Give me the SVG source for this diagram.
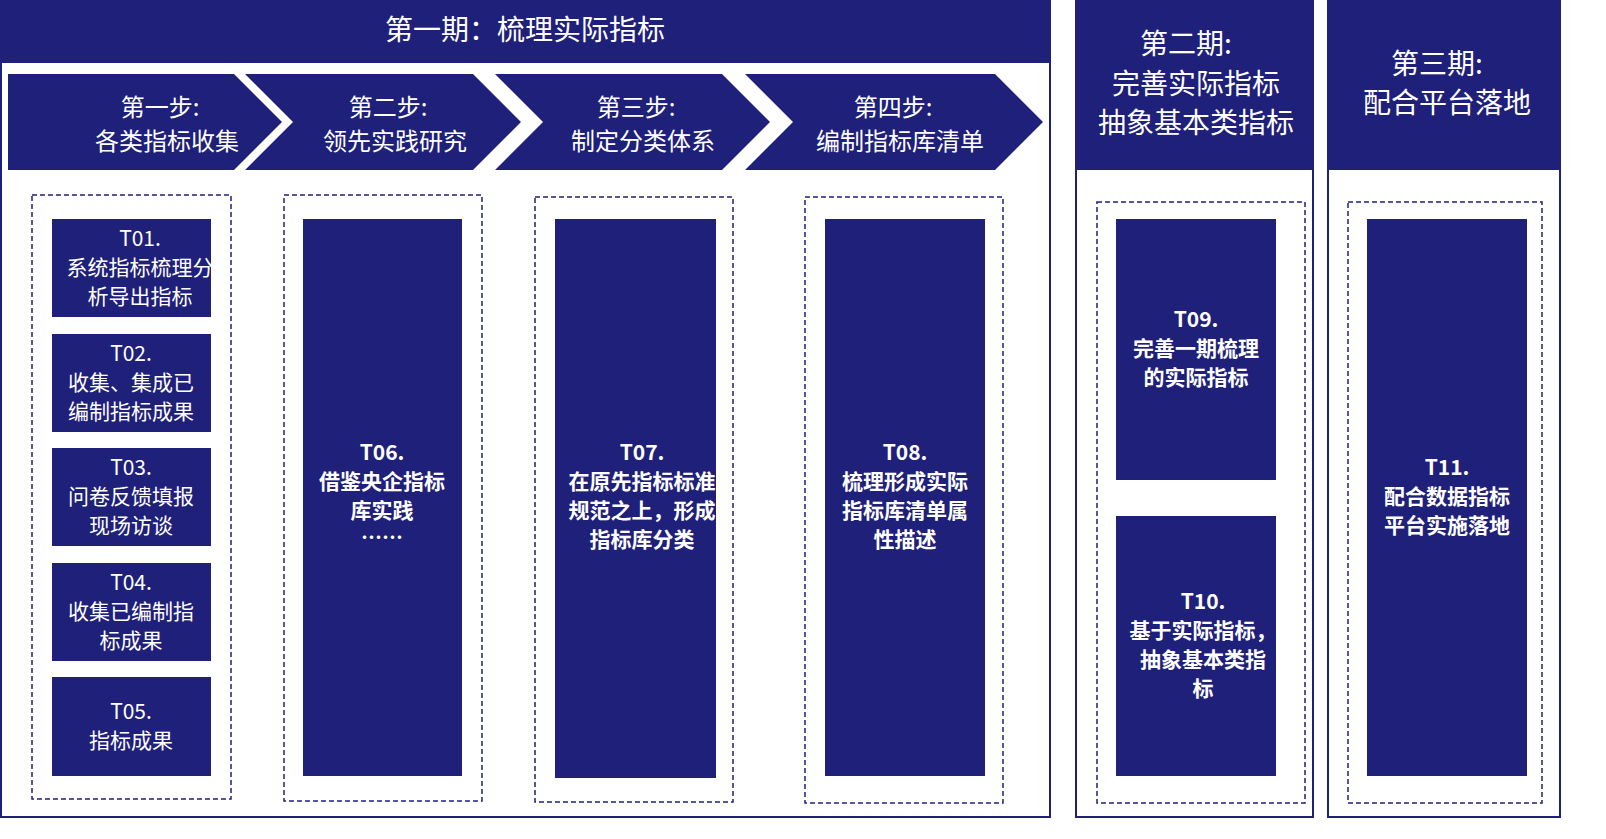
<svg xmlns="http://www.w3.org/2000/svg" width="1606" height="839" viewBox="0 0 1606 839">
<style>
.n{fill:#1f207a}
.fr{fill:#fff;stroke:#1f207a;stroke-width:2}
.d{fill:none;stroke:#1f207a;stroke-width:1.5;stroke-dasharray:5 3}
text{font-family:"Noto Sans CJK SC","Liberation Sans",sans-serif;fill:#fff;text-anchor:middle}
.h{font-size:28px}
.s{font-size:24px}
.t{font-size:21px}
.b{font-size:21px;font-weight:bold}
</style>
<defs>
<clipPath id="c1"><rect x="52" y="219" width="159" height="98"/></clipPath>
<clipPath id="c7"><rect x="555" y="219" width="161" height="559"/></clipPath>
<clipPath id="c10"><rect x="1116" y="516" width="160" height="260"/></clipPath>
</defs>
<rect width="1606" height="839" fill="#fff"/>
<g id="phase1">
<rect class="fr" x="1" y="1" width="1049" height="816"/>
<rect class="n" x="0" y="0" width="1051" height="63"/>
<text class="h" x="525" y="40">第一期：梳理实际指标</text>
</g>
<g id="step1"><polygon class="n" points="8,74 234,74 282,122 234,170 8,170"/><text class="s" x="160" y="116">第一步:</text><text class="s" x="167" y="150">各类指标收集</text></g>
<g id="step2"><polygon class="n" points="245,74 473,74 521,122 473,170 245,170 293,122"/><text class="s" x="388" y="116">第二步:</text><text class="s" x="395" y="150">领先实践研究</text></g>
<g id="step3"><polygon class="n" points="495,74 722,74 770,122 722,170 495,170 543,122"/><text class="s" x="636" y="116">第三步:</text><text class="s" x="643" y="150">制定分类体系</text></g>
<g id="step4"><polygon class="n" points="745,74 995,74 1043,122 995,170 745,170 793,122"/><text class="s" x="893" y="116">第四步:</text><text class="s" x="900" y="150">编制指标库清单</text></g>
<g id="col1">
<rect class="d" x="32" y="195" width="199" height="604"/>
<g id="T01"><rect class="n" x="52" y="219" width="159" height="98"/><g clip-path="url(#c1)"><text class="t" x="140" y="246">T01.</text><text class="t" x="140" y="275">系统指标梳理分</text><text class="t" x="140" y="304">析导出指标</text></g></g>
<g id="T02"><rect class="n" x="52" y="334" width="159" height="98"/><text class="t" x="131" y="361">T02.</text><text class="t" x="131" y="390">收集、集成已</text><text class="t" x="131" y="419">编制指标成果</text></g>
<g id="T03"><rect class="n" x="52" y="448" width="159" height="98"/><text class="t" x="131" y="475">T03.</text><text class="t" x="131" y="504">问卷反馈填报</text><text class="t" x="131" y="533">现场访谈</text></g>
<g id="T04"><rect class="n" x="52" y="563" width="159" height="98"/><text class="t" x="131" y="590">T04.</text><text class="t" x="131" y="619">收集已编制指</text><text class="t" x="131" y="648">标成果</text></g>
<g id="T05"><rect class="n" x="52" y="677" width="159" height="99"/><text class="t" x="131" y="719">T05.</text><text class="t" x="131" y="748">指标成果</text></g>
</g>
<g id="T06"><rect class="d" x="284" y="195" width="198" height="606"/><rect class="n" x="303" y="219" width="159" height="557"/><text class="b" x="382" y="460">T06.</text><text class="b" x="382" y="489">借鉴央企指标</text><text class="b" x="382" y="518">库实践</text><text class="b" x="382" y="545">……</text></g>
<g id="T07"><rect class="d" x="535" y="197" width="198" height="605"/><rect class="n" x="555" y="219" width="161" height="559"/><g clip-path="url(#c7)"><text class="b" x="642" y="460">T07.</text><text class="b" x="642" y="489">在原先指标标准</text><text class="b" x="642" y="518">规范之上，形成</text><text class="b" x="642" y="547">指标库分类</text></g></g>
<g id="T08"><rect class="d" x="805" y="197" width="198" height="606"/><rect class="n" x="825" y="219" width="160" height="557"/><text class="b" x="905" y="460">T08.</text><text class="b" x="905" y="489">梳理形成实际</text><text class="b" x="905" y="518">指标库清单属</text><text class="b" x="905" y="547">性描述</text></g>
<g id="phase2">
<rect class="fr" x="1076" y="1" width="237" height="816"/>
<rect class="n" x="1077" y="0" width="237" height="170"/>
<text class="h" x="1186" y="54">第二期:</text><text class="h" x="1196" y="94">完善实际指标</text><text class="h" x="1196" y="133">抽象基本类指标</text>
<rect class="d" x="1097" y="202" width="208" height="601"/>
</g>
<g id="T09"><rect class="n" x="1116" y="219" width="160" height="261"/><text class="b" x="1196" y="327">T09.</text><text class="b" x="1196" y="356">完善一期梳理</text><text class="b" x="1196" y="385">的实际指标</text></g>
<g id="T10"><rect class="n" x="1116" y="516" width="160" height="260"/><g clip-path="url(#c10)"><text class="b" x="1203" y="609">T10.</text><text class="b" x="1203" y="638">基于实际指标，</text><text class="b" x="1203" y="667">抽象基本类指</text><text class="b" x="1203" y="696">标</text></g></g>
<g id="phase3">
<rect class="fr" x="1328" y="1" width="232" height="816"/>
<rect class="n" x="1328" y="0" width="232" height="170"/>
<text class="h" x="1437" y="74">第三期:</text><text class="h" x="1447" y="113">配合平台落地</text>
<rect class="d" x="1348" y="202" width="194" height="601"/>
</g>
<g id="T11"><rect class="n" x="1367" y="219" width="160" height="557"/><text class="b" x="1447" y="475">T11.</text><text class="b" x="1447" y="504">配合数据指标</text><text class="b" x="1447" y="533">平台实施落地</text></g>
<g id="connectors"/>
</svg>
